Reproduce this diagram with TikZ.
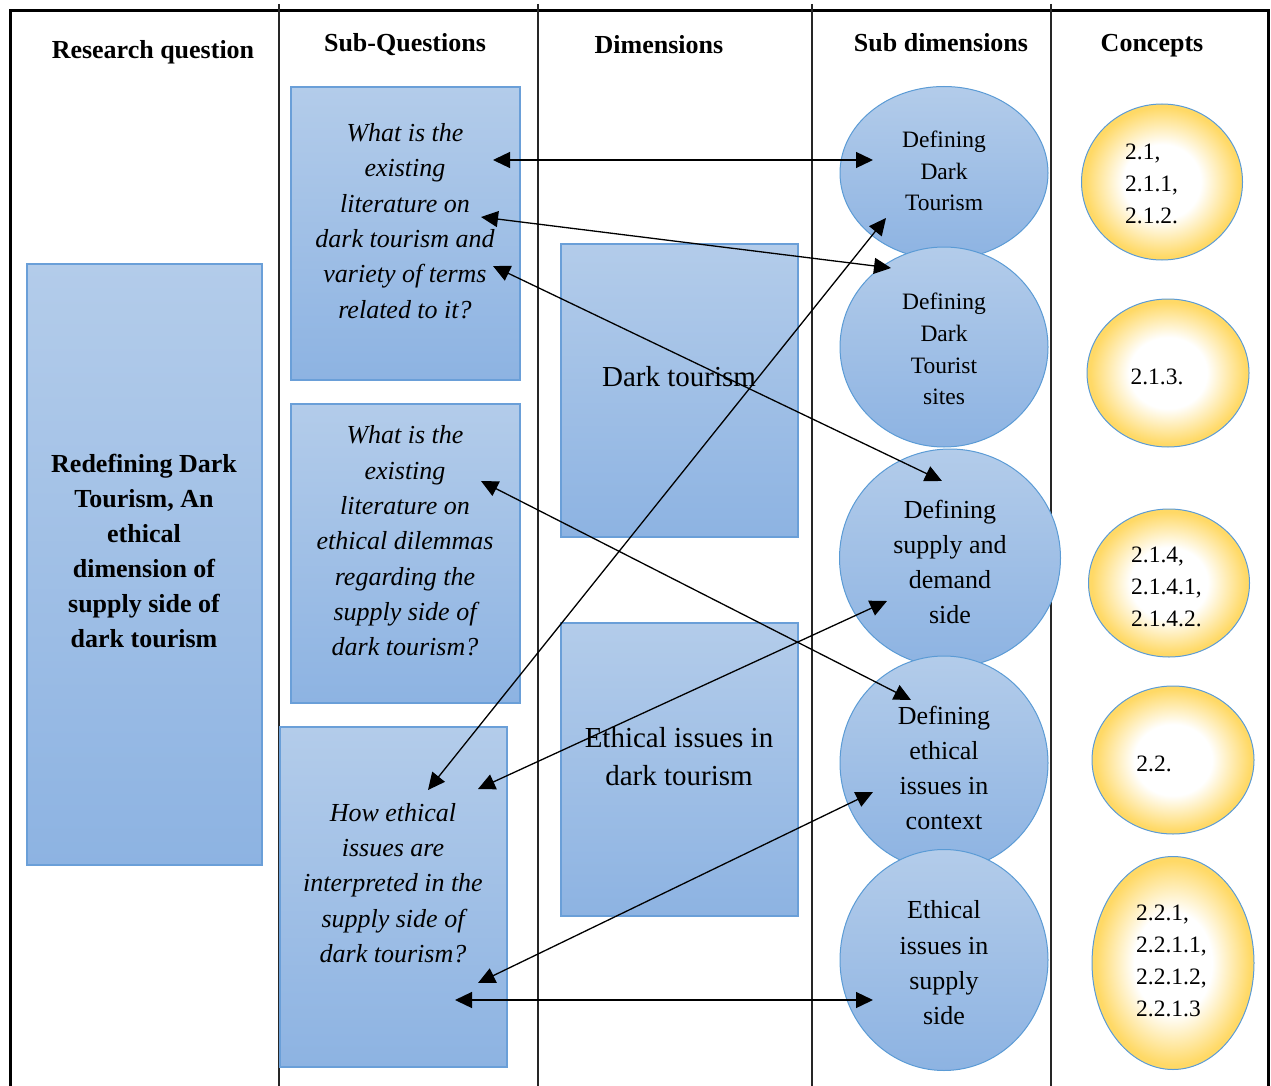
\documentclass[tikz,border=0pt]{standalone}
\usepackage{fontspec}
\setmainfont{Liberation Serif}
\usetikzlibrary{arrows.meta,shapes.geometric}

\definecolor{bluetop}{HTML}{B3CCEA}
\definecolor{bluebot}{HTML}{8DB3E2}
\definecolor{blueedge}{HTML}{6A9FD8}
\definecolor{circedge}{HTML}{5B9BD5}
\definecolor{gold}{HTML}{FFD966}

% white core fading to gold at the rim (rim of the shape sits at about 25bp)
\pgfdeclareradialshading{goldglow}{\pgfpointorigin}{color(0bp)=(white); color(12bp)=(white); color(24bp)=(gold); color(25bp)=(gold); color(50bp)=(gold)}

\tikzset{
  frame/.style={line width=3pt, black},
  colline/.style={line width=1.4pt, black!85},
  box/.style={draw=blueedge, line width=1.2pt, top color=bluetop, bottom color=bluebot,
    anchor=north west, inner sep=0pt, outer sep=0pt},
  sub/.style={ellipse, draw=circedge, line width=1pt, top color=bluetop, bottom color=bluebot,
    inner sep=0pt, outer sep=0pt},
  concept/.style={ellipse, draw=circedge, line width=1pt, shading=goldglow, inner sep=0pt, outer sep=0pt},
  head/.style={font=\fontsize{26}{30}\selectfont\bfseries, inner sep=0pt},
  rq/.style={font=\fontsize{26}{35}\selectfont\bfseries, align=center, inner sep=0pt},
  sq/.style={font=\fontsize{26}{35.3}\selectfont\itshape, align=center, inner sep=0pt},
  dim/.style={font=\fontsize{29}{38}\selectfont, align=center, inner sep=0pt},
  subsmall/.style={font=\fontsize{23.5}{31.8}\selectfont, align=center, inner sep=0pt},
  sublarge/.style={font=\fontsize{26}{35.3}\selectfont, align=center, inner sep=0pt},
  num/.style={font=\fontsize{23.5}{31.8}\selectfont, align=left, inner sep=0pt},
  link/.style={line width=1.3pt, {Triangle[length=17pt,width=16pt]}-{Triangle[length=17pt,width=16pt]}},
}

\begin{document}
\begin{tikzpicture}[x=1pt, y=-1pt]
\useasboundingbox (0,0) rectangle (1271,1086);

% table frame and column rules
\draw[frame] (10,1086) -- (10,11) -- (1268,11) -- (1268,1086);
\foreach \cx in {279,538,812,1051}
  \draw[colline] (\cx,4) -- (\cx,1086);

% column headings
\node[head] (h1) at (153,52) {Research question};
\node[head] (h2) at (405,45) {Sub-Questions};
\node[head] (h3) at (659,45) {Dimensions};
\node[head] (h4) at (941,43) {Sub dimensions};
\node[head] (h5) at (1152,46) {Concepts};

% research question
\node[box, minimum width=235pt, minimum height=601pt] (rqbox) at (27,264) {};
\node[rq] (rqtext) at (144,551) {Redefining Dark\\Tourism, An\\ethical\\dimension of\\supply side of\\dark tourism};

% sub-questions
\node[box, minimum width=229pt, minimum height=293pt] (q1) at (291,87) {};
\node[sq] (q1text) at (405,221) {What is the\\existing\\literature on\\dark tourism and\\variety of terms\\related to it?};
\node[box, minimum width=229pt, minimum height=299pt] (q2) at (291,404) {};
\node[sq] (q2text) at (405,541) {What is the\\existing\\literature on\\ethical dilemmas\\regarding the\\supply side of\\dark tourism?};
\node[box, minimum width=227pt, minimum height=340pt] (q3) at (280,727) {};
\node[sq] (q3text) at (393,883) {How ethical\\issues are\\interpreted in the\\supply side of\\dark tourism?};

% dimensions
\node[box, minimum width=237pt, minimum height=293pt] (d1) at (561,244) {};
\node[dim] (d1text) at (679,377) {Dark tourism};
\node[box, minimum width=237pt, minimum height=293pt] (d2) at (561,623) {};
\node[dim] (d2text) at (679,757) {Ethical issues in\\dark tourism};

% sub dimensions
\node[sub, minimum width=208pt, minimum height=173pt] (s1) at (944,173) {};
\node[subsmall] (s1text) at (944,171) {Defining\\Dark\\Tourism};
\node[sub, minimum width=208pt, minimum height=200pt] (s2) at (944,347) {};
\node[subsmall] (s2text) at (944,349) {Defining\\Dark\\Tourist\\sites};
\node[sub, minimum width=221pt, minimum height=218pt] (s3) at (950,558) {};
\node[sublarge] (s3text) at (950,562) {Defining\\supply and\\demand\\side};
\node[sub, minimum width=208pt, minimum height=214pt] (s4) at (944,763) {};
\node[sublarge] (s4text) at (944,768) {Defining\\ethical\\issues in\\context};
\node[sub, minimum width=208pt, minimum height=221pt] (s5) at (944,960) {};
\node[sublarge] (s5text) at (944,963) {Ethical\\issues in\\supply\\side};

% concepts
\node[concept, minimum width=161pt, minimum height=156pt] (c1) at (1162,182) {};
\node[num, anchor=west] (c1text) at (1125,184) {2.1,\\2.1.1,\\2.1.2.};
\node[concept, minimum width=162pt, minimum height=148pt] (c2) at (1168,373) {};
\node[num] (c2text) at (1157,377) {2.1.3.};
\node[concept, minimum width=161pt, minimum height=148pt] (c3) at (1169,583) {};
\node[num, anchor=west] (c3text) at (1131,587) {2.1.4,\\2.1.4.1,\\2.1.4.2.};
\node[concept, minimum width=162pt, minimum height=148pt] (c4) at (1173,760) {};
\node[num] (c4text) at (1154,764) {2.2.};
\node[concept, minimum width=162pt, minimum height=213pt] (c5) at (1173,963) {};
\node[num, anchor=west] (c5text) at (1136,961) {2.2.1,\\2.2.1.1,\\2.2.1.2,\\2.2.1.3};

% connector end points
\coordinate (a1) at (493,160);  \coordinate (b1) at (873,160);
\coordinate (a2) at (481,217);  \coordinate (b2) at (891,268);
\coordinate (a3) at (493,266);  \coordinate (b3) at (942,481);
\coordinate (a4) at (481,481);  \coordinate (b4) at (911,700);
\coordinate (a5) at (428,790);  \coordinate (b5) at (886,218);
\coordinate (a6) at (478,789);  \coordinate (b6) at (887,601);
\coordinate (a7) at (478,983);  \coordinate (b7) at (873,792);
\coordinate (a8) at (455,1000); \coordinate (b8) at (873,1000);

% connectors between sub-questions and sub dimensions
\foreach \i in {1,...,8}
  \draw[link] (a\i) -- (b\i);

\end{tikzpicture}
\end{document}
